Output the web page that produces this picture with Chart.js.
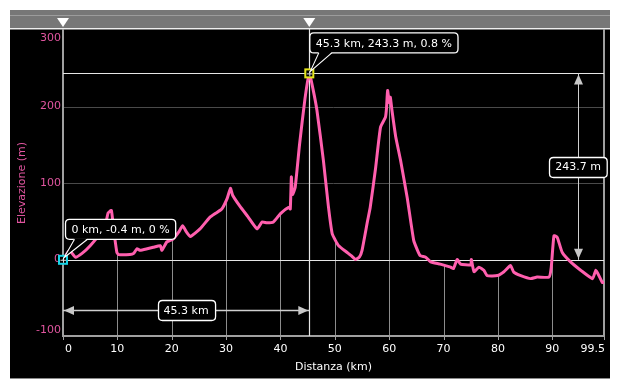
<!DOCTYPE html>
<html>
<head>
<meta charset="utf-8">
<script src="https://cdn.jsdelivr.net/npm/chart.js@4.4.1/dist/chart.umd.min.js"></script>
<style>
html,body{margin:0;padding:0;background:#fff;}
canvas{display:block;}
</style>
</head>
<body>
<canvas id="c" width="620" height="390"></canvas>
<script>
// ---- data ----
const distanceKm = [0,0.5,1.2,2.3,3.5,5,6.8,8.0,8.3,8.9,9.3,9.9,10.2,12.3,13.0,13.6,14.2,15.5,16.6,17.9,18.2,19.1,20.3,21.3,22.0,22.7,23.4,25.2,27.0,28.0,29.2,30.2,30.8,31.2,32.5,34.0,35.7,36.6,37.5,38.7,40.0,41.5,41.8,42.0,42.2,42.7,43.5,44.5,45.3,46.0,46.7,47.9,48.8,49.5,50.1,50.7,52.2,53.0,53.8,54.5,55.0,56.0,56.5,57.5,58.4,59.3,59.5,59.7,60.0,60.2,60.5,61.2,62.1,63.3,64.5,65.2,65.7,66.7,67.6,69.4,71.3,71.8,72.5,73.1,75.0,75.1,75.6,76.5,77.4,78.0,79.9,81.1,82.3,82.9,84.2,86.0,87.2,89.4,89.8,90.3,90.9,91.8,93.4,95.2,97.4,98.0,98.7,99.2,99.5];
const elevationM = [-0.4,5,12,3,8,18,34,52,61,64,40,9.5,6.5,6.5,8,14,12,14,16,18,12,23,27,36,44,36,30,40,55,60,66,80,93,84,70,56,40,49,48,49,60,68,66,108,85,94,150,210,243.3,222,195,129,70,34,25,18,9.5,5,0,3,12,50,68,120,173,186,198,221,205,212,195,160,129,81,25,12,5,3,-3,-6,-10,-12,0,-6,-7,0,-16,-10,-14,-21,-21,-16,-8,-16.5,-21,-25,-23,-23,-10,31,29,9.5,-3.5,-14,-25,-14,-23,-30,-30];
const xTicks = [0,10,20,30,40,50,60,70,80,90,99.5];
const yTicks = [-100,0,100,200,300];
const markerKm = [0, 45.3];
const markerElev = [-0.4, 243.3];
const markerGrade = [0, 0.8];
const xTitle = 'Distanza (km)';
const yTitle = 'Elevazione (m)';

const PINK = '#ff5fae';
const PINK_TXT = '#e0559f';
const FONT = '11px "DejaVu Sans", Verdana, sans-serif';

function elevAt(km){
  for(let i=1;i<distanceKm.length;i++){
    if(km<=distanceKm[i]){
      const a=distanceKm[i-1],b=distanceKm[i];
      const t=(km-a)/(b-a);
      return elevationM[i-1]+t*(elevationM[i]-elevationM[i-1]);
    }
  }
  return elevationM[elevationM.length-1];
}
function fmt(v){ return String(Math.round(v*10)/10); }

function roundRect(ctx,x,y,w,h,r){
  ctx.beginPath();
  ctx.moveTo(x+r,y);ctx.lineTo(x+w-r,y);ctx.quadraticCurveTo(x+w,y,x+w,y+r);
  ctx.lineTo(x+w,y+h-r);ctx.quadraticCurveTo(x+w,y+h,x+w-r,y+h);
  ctx.lineTo(x+r,y+h);ctx.quadraticCurveTo(x,y+h,x,y+h-r);
  ctx.lineTo(x,y+r);ctx.quadraticCurveTo(x,y,x+r,y);ctx.closePath();
}
function labelBox(ctx,text,cx,cy){
  ctx.font=FONT;
  const w=ctx.measureText(text).width+12, h=20;
  const x=Math.round(cx-w/2)+0.5, y=Math.round(cy-h/2)+0.5;
  roundRect(ctx,x,y,w,h,4);
  ctx.fillStyle='#000';ctx.fill();
  ctx.strokeStyle='#fff';ctx.lineWidth=1.3;ctx.stroke();
  ctx.fillStyle='#fff';ctx.textAlign='center';ctx.textBaseline='middle';
  ctx.fillText(text,cx,cy+1);
}
function callout(ctx,text,left,top,px,py){
  ctx.font=FONT;
  const w=ctx.measureText(text).width+12, h=20;
  const x=left+0.5,y=top+0.5;
  roundRect(ctx,x,y,w,h,4);
  ctx.fillStyle='#000';ctx.fill();
  ctx.strokeStyle='#fff';ctx.lineWidth=1.3;ctx.stroke();
  // tail
  const b1=x+9,b2=x+22;
  ctx.beginPath();ctx.moveTo(b1,y+h-1);ctx.lineTo(px,py);ctx.lineTo(b2,y+h-1);ctx.closePath();
  ctx.fillStyle='#000';ctx.fill();
  ctx.beginPath();ctx.moveTo(b1,y+h);ctx.lineTo(px,py);ctx.lineTo(b2,y+h);
  ctx.strokeStyle='#fff';ctx.lineWidth=1.1;ctx.stroke();
  ctx.fillStyle='#fff';ctx.textAlign='left';ctx.textBaseline='middle';
  ctx.fillText(text,x+6,y+h/2+1);
}
function marker(ctx,px,py,col){
  ctx.strokeStyle=col;ctx.lineWidth=2;
  ctx.fillStyle='#000';
  ctx.fillRect(px-4,py-4,8,8);
  ctx.strokeRect(px-4,py-4,8,8);
  ctx.strokeStyle='#ddd';ctx.lineWidth=1;
  ctx.beginPath();ctx.moveTo(px-2.5,py+0.5);ctx.lineTo(px+3,py+0.5);
  ctx.moveTo(px+0.5,py-2.5);ctx.lineTo(px+0.5,py+3);ctx.stroke();
}
function arrowHead(ctx,x,y,dir){ // dir: 'up','down','left','right' ; tip at x,y
  ctx.beginPath();
  if(dir==='up'){ctx.moveTo(x,y);ctx.lineTo(x-4.5,y+10);ctx.lineTo(x+4.5,y+10);}
  if(dir==='down'){ctx.moveTo(x,y);ctx.lineTo(x-4.5,y-10);ctx.lineTo(x+4.5,y-10);}
  if(dir==='left'){ctx.moveTo(x,y);ctx.lineTo(x+10,y-4.5);ctx.lineTo(x+10,y+4.5);}
  if(dir==='right'){ctx.moveTo(x,y);ctx.lineTo(x-10,y-4.5);ctx.lineTo(x-10,y+4.5);}
  ctx.closePath();ctx.fillStyle='#c8c8c8';ctx.fill();
}

const deco = {
  id:'deco',
  beforeDraw(chart){
    const ctx=chart.ctx;
    ctx.save();
    ctx.fillStyle='#fff';ctx.fillRect(0,0,620,390);
    ctx.fillStyle='#000';ctx.fillRect(10,10,600,369);
    ctx.fillStyle='#8a8a8a';ctx.fillRect(10,378,600,1);
    ctx.fillStyle='#777';ctx.fillRect(10,10,600,19);
    ctx.fillStyle='#9c9c9c';ctx.fillRect(10,15,600,1);
    ctx.fillStyle='#eee';ctx.fillRect(10,28,600,1.5);
    ctx.restore();
  },
  beforeDatasetsDraw(chart){
    const ctx=chart.ctx, xs=chart.scales.x, ys=chart.scales.y, a=chart.chartArea;
    ctx.save();
    // horizontal grid
    ctx.strokeStyle='#4a4a4a';ctx.lineWidth=1;
    [100,200].forEach(v=>{const y=Math.round(ys.getPixelForValue(v))+0.5;
      ctx.beginPath();ctx.moveTo(a.left,y);ctx.lineTo(a.right,y);ctx.stroke();});
    // vertical grid up to profile
    ctx.strokeStyle='#8c8c8c';
    xTicks.slice(1,-1).forEach(v=>{const x=Math.round(xs.getPixelForValue(v))+0.5;
      ctx.beginPath();ctx.moveTo(x,a.bottom);ctx.lineTo(x,ys.getPixelForValue(elevAt(v)));ctx.stroke();});
    // axes
    ctx.strokeStyle='#a0a0a0';ctx.lineWidth=2;
    ctx.beginPath();ctx.moveTo(a.left,29);ctx.lineTo(a.left,a.bottom+1);ctx.stroke();
    ctx.beginPath();ctx.moveTo(a.right,29);ctx.lineTo(a.right,a.bottom+1);ctx.stroke();
    ctx.beginPath();ctx.moveTo(a.left,a.bottom);ctx.lineTo(a.right,a.bottom);ctx.stroke();
    ctx.lineWidth=1;
    xTicks.forEach(v=>{const x=Math.round(xs.getPixelForValue(v))+0.5;
      ctx.beginPath();ctx.moveTo(x,a.bottom);ctx.lineTo(x,a.bottom+4);ctx.stroke();});
    // zero line and peak line
    const y0=Math.round(ys.getPixelForValue(markerElev[0]))+0.5;
    const y1=Math.round(ys.getPixelForValue(markerElev[1]))+0.5;
    ctx.strokeStyle='#e6e6e6';ctx.lineWidth=1.2;
    ctx.beginPath();ctx.moveTo(a.left,y0);ctx.lineTo(a.right,y0);ctx.stroke();
    ctx.beginPath();ctx.moveTo(a.left,y1);ctx.lineTo(a.right,y1);ctx.stroke();
    const xm=Math.round(xs.getPixelForValue(markerKm[1]))+0.5;
    ctx.beginPath();ctx.moveTo(xm,29);ctx.lineTo(xm,a.bottom);ctx.stroke();
    ctx.restore();
  },
  afterDraw(chart){
    const ctx=chart.ctx, xs=chart.scales.x, ys=chart.scales.y, a=chart.chartArea;
    ctx.save();
    const px0=xs.getPixelForValue(markerKm[0]), py0=ys.getPixelForValue(markerElev[0]);
    const px1=xs.getPixelForValue(markerKm[1]), py1=ys.getPixelForValue(markerElev[1]);
    // triangles in top bar
    [px0,px1].forEach(x=>{
      ctx.beginPath();ctx.moveTo(x-6,18);ctx.lineTo(x+6,18);ctx.lineTo(x,27);ctx.closePath();
      ctx.fillStyle='#fff';ctx.fill();
    });
    // vertical measure arrow
    const ax=a.right-26;
    ctx.strokeStyle='#d0d0d0';ctx.lineWidth=1;
    ctx.beginPath();ctx.moveTo(ax+0.5,py1);ctx.lineTo(ax+0.5,py0);ctx.stroke();
    arrowHead(ctx,ax+0.5,py1+1,'up');arrowHead(ctx,ax+0.5,py0-1,'down');
    labelBox(ctx,fmt(markerElev[1]-markerElev[0])+' m',ax,(py0+py1)/2);
    // horizontal measure arrow
    const ay=a.bottom-26;
    ctx.strokeStyle='#d0d0d0';
    ctx.beginPath();ctx.moveTo(px0,ay+0.5);ctx.lineTo(px1,ay+0.5);ctx.stroke();
    arrowHead(ctx,px0+1,ay+0.5,'left');arrowHead(ctx,px1-1,ay+0.5,'right');
    labelBox(ctx,fmt(markerKm[1]-markerKm[0])+' km',(px0+px1)/2,ay);
    // y tick labels
    ctx.font=FONT;ctx.fillStyle=PINK_TXT;ctx.textAlign='right';ctx.textBaseline='middle';
    yTicks.forEach(v=>{let y=ys.getPixelForValue(v);y=Math.max(a.top+8,Math.min(a.bottom-6,y));
      ctx.fillText(String(v),a.left-2,y);});
    // markers and callouts
    marker(ctx,px0,py0,'#17d4e6');
    marker(ctx,px1,py1,'#e4e41a');
    callout(ctx,markerKm[0]+' km, '+markerElev[0]+' m, '+markerGrade[0]+' %',px0+2,py0-41,px0+1,py0-2);
    callout(ctx,markerKm[1]+' km, '+markerElev[1]+' m, '+markerGrade[1]+' %',px1,py1-41,px1+1,py1-2);
    // x tick labels
    ctx.font=FONT;ctx.fillStyle='#fff';ctx.textBaseline='middle';ctx.textAlign='left';
    xTicks.forEach(v=>{const t=String(v);const w=ctx.measureText(t).width;
      let x=xs.getPixelForValue(v)-w/2;x=Math.max(a.left+2,Math.min(a.right+1-w,x));
      ctx.fillText(t,x,a.bottom+13);});
    // titles
    ctx.textAlign='center';ctx.fillStyle='#fff';
    ctx.fillText(xTitle,(a.left+a.right)/2,a.bottom+31);
    ctx.translate(22,(a.top+a.bottom)/2);ctx.rotate(-Math.PI/2);
    ctx.fillStyle=PINK_TXT;ctx.fillText(yTitle,0,0);
    ctx.restore();
  }
};

new Chart(document.getElementById('c'),{
  type:'line',
  data:{datasets:[{
    data:distanceKm.map((d,i)=>({x:d,y:elevationM[i]})),
    borderColor:PINK,borderWidth:3,pointRadius:0,tension:0.15,fill:false,
    borderJoinStyle:'round',borderCapStyle:'round'
  }]},
  options:{
    responsive:false,animation:false,
    layout:{padding:{left:10,right:16,top:30,bottom:12}},
    plugins:{legend:{display:false},tooltip:{enabled:false}},
    scales:{
      x:{type:'linear',min:0,max:99.5,grid:{display:false},border:{display:false},
         ticks:{display:false},afterFit:s=>{s.height=42;}},
      y:{min:-100,max:300,grid:{display:false},border:{display:false},
         ticks:{display:false,stepSize:100},afterFit:s=>{s.width=53;}}
    }
  },
  plugins:[deco]
});
</script>
</body>
</html>
